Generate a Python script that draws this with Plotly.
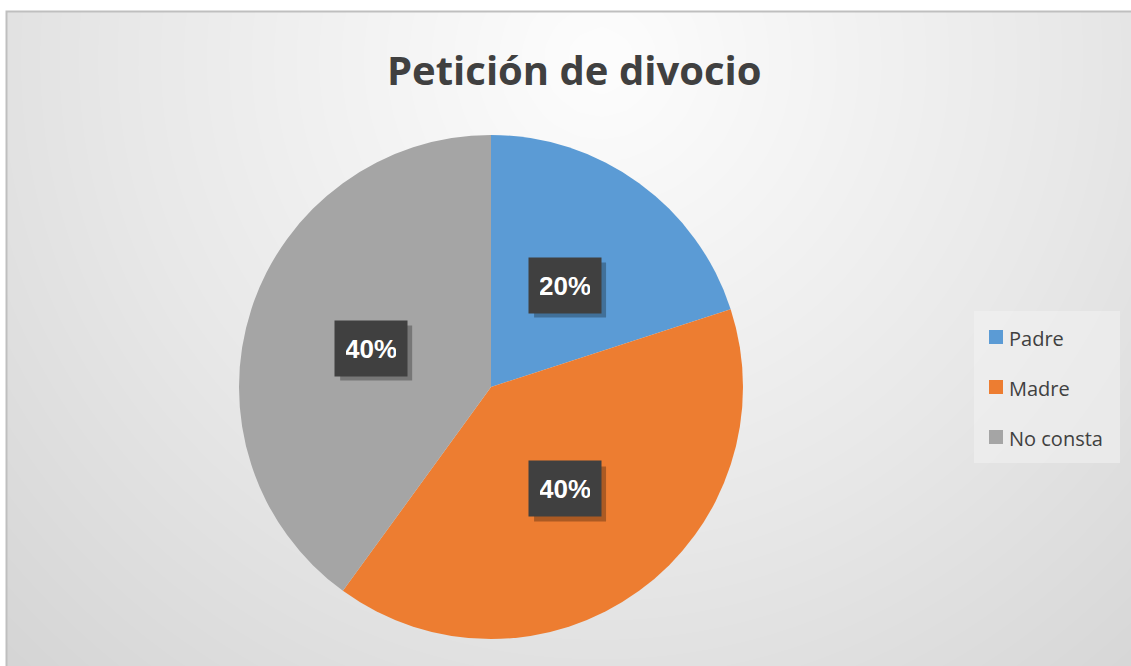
import math
import numpy as np
import plotly.graph_objects as go

labels = ["Padre", "Madre", "No consta"]
values = [20, 40, 40]
colors = ["#5B9BD5", "#ED7D31", "#A5A5A5"]
title_text = "Petición de divocio"

W, H = 1131, 666
cx, cy, r = 491, 387, 252  # pie centre and radius in pixels
BW, BH = 72, 55            # label box size in pixels

fig = go.Figure()

# background radial gradient (style only)
gx = np.linspace(0, W, 48)
gy = np.linspace(0, H, 30)
GX, GY = np.meshgrid(gx, gy)
gz = np.sqrt((GX - 600) ** 2 + (GY - 60) ** 2)
fig.add_trace(go.Heatmap(
    x=gx, y=gy, z=gz, zsmooth="best", showscale=False, hoverinfo="skip",
    colorscale=[[0, "#fdfdfd"], [0.55, "#e8e8e8"], [1, "#d4d4d4"]],
    zmin=0, zmax=860, xaxis="x", yaxis="y",
))

fig.add_trace(go.Pie(
    labels=labels, values=values, sort=False, direction="clockwise", rotation=0,
    marker=dict(colors=colors, line=dict(width=0)),
    textinfo="none", showlegend=False, hoverinfo="label+percent",
    domain=dict(x=[(cx - r) / W, (cx + r) / W], y=[1 - (cy + r) / H, 1 - (cy - r) / H]),
))

annotations = []
shapes = []
total = sum(values)
cum = 0
for lab, v in zip(labels, values):
    mid = (cum + v / 2) / total * 2 * math.pi
    cum += v
    px = cx + 0.5 * r * math.sin(mid)
    py = cy - 0.5 * r * math.cos(mid)
    pct = f"{round(v / total * 100)}%"
    # shadow behind the label box
    shapes.append(dict(
        type="rect", xref="paper", yref="paper", layer="above",
        x0=(px - BW / 2 + 5) / W, x1=(px + BW / 2 + 5) / W,
        y0=1 - (py + BH / 2 + 5) / H, y1=1 - (py - BH / 2 + 5) / H,
        fillcolor="rgba(0,0,0,0.28)", line=dict(width=0),
    ))
    annotations.append(dict(
        x=px / W, y=1 - py / H, text=f"<b>{pct}</b>",
        xref="paper", yref="paper", showarrow=False, width=BW - 22, height=BH - 22,
        borderpad=11, xanchor="center", yanchor="middle",
        bgcolor="#404040", font=dict(color="white", size=26, family="Arial"),
    ))

annotations.append(dict(
    x=574 / W, y=1 - 70 / H, xref="paper", yref="paper", showarrow=False,
    xanchor="center", yanchor="middle",
    text=f"<b>{title_text}</b>", font=dict(size=40, color="#404040", family="Open Sans"),
))

shapes += [
    # outer border
    dict(type="rect", xref="paper", yref="paper", x0=6.5 / W, x1=1.01, y0=-0.01, y1=1 - 11.5 / H,
         line=dict(color="#bfbfbf", width=2), layer="above"),
    # legend box
    dict(type="rect", xref="paper", yref="paper", x0=974 / W, x1=1120 / W, y0=1 - 463 / H, y1=1 - 311 / H,
         fillcolor="rgba(242,242,242,0.55)", line=dict(width=0), layer="above"),
]
for i, (lab, col) in enumerate(zip(labels, colors)):
    yc = 337 + 50 * i
    shapes.append(dict(type="rect", xref="paper", yref="paper",
                       x0=989 / W, x1=1003 / W, y0=1 - (yc + 7) / H, y1=1 - (yc - 7) / H,
                       fillcolor=col, line=dict(width=0), layer="above"))
    annotations.append(dict(x=1007 / W, y=1 - (yc + 1) / H, xref="paper", yref="paper",
                            xanchor="left", yanchor="middle", showarrow=False, text=lab,
                            font=dict(size=20, color="#404040", family="Open Sans")))

fig.update_layout(
    width=W, height=H, margin=dict(l=0, r=0, t=0, b=0),
    paper_bgcolor="white", plot_bgcolor="white",
    xaxis=dict(domain=[6 / W, 1], range=[6, W], visible=False, fixedrange=True),
    yaxis=dict(domain=[0, 1 - 11 / H], range=[H, 11], visible=False, fixedrange=True),
    annotations=annotations, shapes=shapes, showlegend=False,
)

fig.write_html("out.html", config={"displayModeBar": False},
               post_script="document.body.style.margin='0';document.body.style.overflow='hidden';")
